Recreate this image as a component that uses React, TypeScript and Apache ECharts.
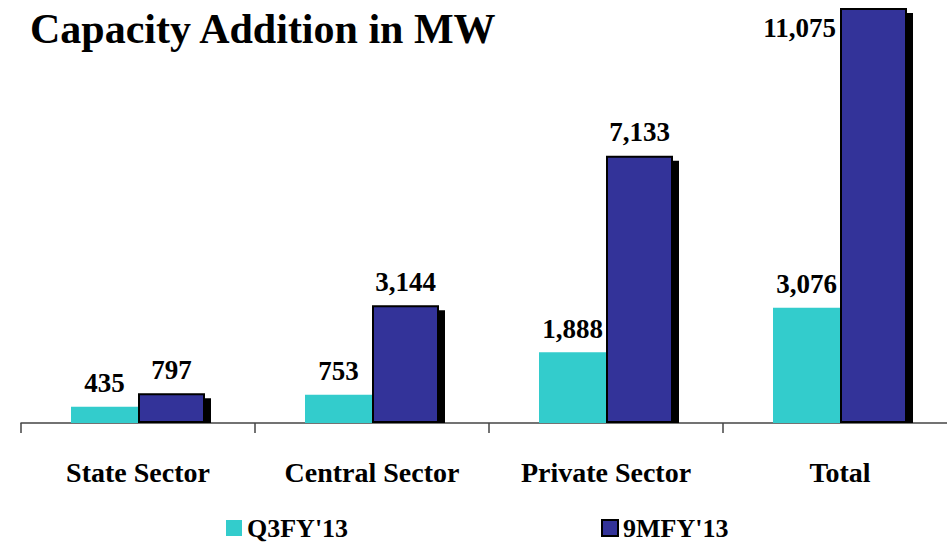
import React, { useEffect, useRef } from "react";
import * as echarts from "echarts";

const categories = ["State Sector", "Central Sector", "Private Sector", "Total"];
const q3Values = [435, 753, 1888, 3076];
const nineMValues = [797, 3144, 7133, 11075];
const seriesNames = ["Q3FY'13", "9MFY'13"];

const FONT = "'Liberation Serif', serif";
const fmt = (v: number) => v.toLocaleString("en-US");

export default function App() {
  const ref = useRef<HTMLDivElement>(null);
  useEffect(() => {
    if (!ref.current) return;
    const chart = echarts.init(ref.current, undefined, { renderer: "svg" });
    const labelStyle = {
      show: true,
      position: "top" as const,
      distance: 10,
      fontFamily: FONT,
      fontWeight: "bold" as const,
      fontSize: 27,
      color: "#000",
      formatter: (p: any) => fmt(p.value),
    };
    const legendText = { fontFamily: FONT, fontWeight: "bold", fontSize: 26, color: "#000" };
    chart.setOption({
      animation: false,
      backgroundColor: "#fff",
      title: {
        text: "Capacity Addition in MW",
        left: 25,
        top: 3,
        textStyle: { fontFamily: FONT, fontWeight: "bold", fontSize: 42, color: "#000" },
      },
      legend: [
        {
          data: [seriesNames[0]],
          left: 226,
          top: 515,
          padding: 0,
          itemWidth: 16,
          itemHeight: 16,
          icon: "rect",
          textStyle: legendText,
        },
        {
          data: [seriesNames[1]],
          left: 601,
          top: 515,
          padding: 0,
          itemWidth: 16,
          itemHeight: 16,
          icon: "rect",
          textStyle: legendText,
        },
      ],
      grid: { left: 21, top: 8, width: 936, bottom: 125, containLabel: false, outerBoundsMode: "none" },
      xAxis: {
        type: "category",
        data: categories,
        axisLine: { lineStyle: { color: "#444", width: 1.5 } },
        axisTick: { show: true, length: 10, lineStyle: { color: "#444", width: 1.5 } },
        axisLabel: {
          interval: 0,
          margin: 35,
          fontFamily: FONT,
          fontWeight: "bold",
          fontSize: 28,
          color: "#000",
        },
      },
      yAxis: {
        type: "value",
        min: 0,
        max: 11075,
        show: false,
        splitLine: { show: false },
      },
      series: [
        {
          type: "custom",
          z: 1,
          silent: true,
          data: nineMValues.map((v, i) => [i, v]),
          renderItem: (_params: any, api: any) => {
            const base = api.coord([api.value(0), 0]);
            const top = api.coord([api.value(0), api.value(1)]);
            return {
              type: "rect",
              shape: { x: base[0] + 6, y: top[1] + 5, width: 67, height: base[1] - top[1] - 5 },
              style: { fill: "#000" },
            };
          },
        },
        {
          name: seriesNames[0],
          type: "bar",
          z: 2,
          barWidth: 67,
          barGap: "0%",
          data: q3Values,
          itemStyle: { color: "#33CCCC" },
          label: labelStyle,
        },
        {
          name: seriesNames[1],
          type: "bar",
          z: 3,
          barWidth: 67,
          barGap: "0%",
          data: nineMValues.map((v, i) =>
            i === nineMValues.length - 1
              ? {
                  value: v,
                  label: { position: [-4, 20], align: "right", verticalAlign: "middle" },
                }
              : v
          ),
          itemStyle: { color: "#333399", borderColor: "#000", borderWidth: 2 },
          label: labelStyle,
        },
      ],
    });
    return () => chart.dispose();
  }, []);
  return (
    <div
      ref={ref}
      style={{ position: "absolute", left: 0, top: 0, width: 947, height: 548 }}
    />
  );
}
